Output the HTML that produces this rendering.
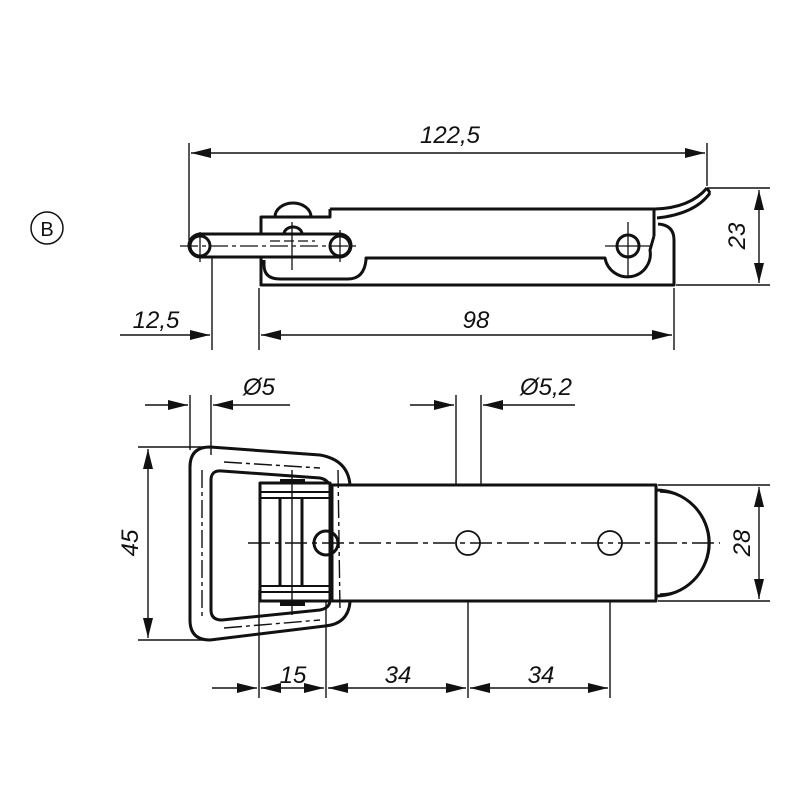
<!DOCTYPE html>
<html><head><meta charset="utf-8"><style>
html,body{margin:0;padding:0;background:#fff}
svg{display:block}
text{font-family:"Liberation Sans",sans-serif;font-style:italic;font-size:24px;fill:#111}
</style></head><body>
<svg width="800" height="800" viewBox="0 0 800 800" xmlns="http://www.w3.org/2000/svg">
<defs>
<marker id="a" viewBox="0 0 20 10" refX="20" refY="5" markerWidth="20" markerHeight="10" markerUnits="userSpaceOnUse" orient="auto-start-reverse"><path d="M0,0 L20,5 L0,10 Z" fill="#111"/></marker>
</defs>
<g fill="none" stroke="#111">
<circle cx="47" cy="228" r="16" stroke-width="1.5"/>
<g stroke-width="1.4">
<line x1="189" y1="143" x2="189" y2="240"/>
<line x1="707" y1="143" x2="707" y2="186"/>
<line x1="191" y1="153" x2="705" y2="153" marker-start="url(#a)" marker-end="url(#a)"/>
<line x1="707" y1="188" x2="770" y2="188"/>
<line x1="676" y1="285" x2="770" y2="285"/>
<line x1="759" y1="190" x2="759" y2="283" marker-start="url(#a)" marker-end="url(#a)"/>
<line x1="212" y1="258" x2="212" y2="350"/>
<line x1="259" y1="288" x2="259" y2="350"/>
<line x1="674" y1="288" x2="674" y2="350"/>
<line x1="120" y1="335" x2="210" y2="335" marker-end="url(#a)"/>
<line x1="261" y1="335" x2="672" y2="335" marker-start="url(#a)" marker-end="url(#a)"/>
</g>
<g stroke-width="3" stroke-linejoin="round">
<path d="M330,209 L655,209 M330,209 L330,217 L261,217 L261,285 L674,285 L674,240 Q674,225 658,224"/>
<path d="M655,209 Q690,208 707,188 M657,218 Q695,214 710,193 M707,188 L710,193"/>
<path d="M654,209 L654,236"/>
<path d="M264,260 L264,265 Q264,279 280,279 L348,279 Q364,279 366,260 L366,258 L605,258 A22,22 0 0 0 650,250 L654,236"/>
<path d="M275,217 A18,14 0 0 1 311,217"/>
<path d="M284,234 A9,7 0 0 1 302,234"/>
<rect x="189" y="234" width="162" height="23" rx="11.5" fill="#fff"/>
<circle cx="200" cy="246" r="10"/>
<circle cx="340" cy="246" r="10"/>
<circle cx="628" cy="246" r="11"/>
</g>
<g stroke-width="1.3">
<line x1="180" y1="246" x2="360" y2="246" stroke-dasharray="18,4,4,4"/>
<line x1="200" y1="232" x2="200" y2="262"/>
<line x1="340" y1="230" x2="340" y2="262"/>
<line x1="292" y1="222" x2="292" y2="270"/>
<line x1="270" y1="241" x2="315" y2="241" stroke-dasharray="10,4"/>
<line x1="605" y1="246" x2="652" y2="246"/>
<line x1="628" y1="222" x2="628" y2="278"/>
</g>
<g stroke-width="1.4">
<line x1="190" y1="395" x2="190" y2="450"/>
<line x1="211" y1="395" x2="211" y2="455"/>
<line x1="145" y1="405" x2="188" y2="405" marker-end="url(#a)"/>
<line x1="290" y1="405" x2="213" y2="405" marker-end="url(#a)"/>
<line x1="456" y1="395" x2="456" y2="540"/>
<line x1="481" y1="395" x2="481" y2="540"/>
<line x1="410" y1="405" x2="454" y2="405" marker-end="url(#a)"/>
<line x1="575" y1="405" x2="483" y2="405" marker-end="url(#a)"/>
<line x1="138" y1="447" x2="205" y2="447"/>
<line x1="138" y1="640" x2="215" y2="640"/>
<line x1="148" y1="449" x2="148" y2="638" marker-start="url(#a)" marker-end="url(#a)"/>
<line x1="658" y1="485" x2="770" y2="485"/>
<line x1="658" y1="601" x2="770" y2="601"/>
<line x1="759" y1="487" x2="759" y2="599" marker-start="url(#a)" marker-end="url(#a)"/>
<line x1="259" y1="590" x2="259" y2="698"/>
<line x1="326" y1="520" x2="326" y2="698"/>
<line x1="468" y1="515" x2="468" y2="698"/>
<line x1="610" y1="515" x2="610" y2="698"/>
<line x1="212" y1="688" x2="257" y2="688" marker-end="url(#a)"/>
<line x1="261" y1="688" x2="324" y2="688" marker-start="url(#a)" marker-end="url(#a)"/>
<line x1="328" y1="688" x2="466" y2="688" marker-start="url(#a)" marker-end="url(#a)"/>
<line x1="470" y1="688" x2="608" y2="688" marker-start="url(#a)" marker-end="url(#a)"/>
</g>
<g stroke-width="3" stroke-linejoin="round">
<path d="M210,447 L320,455 Q348,460 350,485 L350,602 Q348,624 325,626 L210,640 Q190,640 190,620 L190,467 Q190,447 210,447 Z"/>
<path d="M222,471 L320,478 Q330,480 330,490 L330,600 Q330,608 320,610 L222,620 Q211,620 211,610 L211,480 Q211,470 222,471 Z"/>
<rect x="332" y="485" width="324" height="116" fill="#fff"/>
<path d="M656,485 L656,490 A52,52 0 0 1 656,596 L656,601" />
<path d="M660,492 A50,51 0 0 1 660,594" stroke-width="1.5"/>
<rect x="260" y="483" width="70" height="118" fill="#fff"/>
<line x1="260" y1="492" x2="330" y2="492" stroke-width="2"/>
<line x1="260" y1="498" x2="330" y2="498" stroke-width="2"/>
<line x1="260" y1="586" x2="330" y2="586" stroke-width="2"/>
<line x1="260" y1="592" x2="330" y2="592" stroke-width="2"/>
<line x1="280" y1="498" x2="280" y2="586"/>
<line x1="302" y1="498" x2="302" y2="586"/>
<circle cx="326" cy="543" r="12"/>
<circle cx="468" cy="543" r="12" stroke-width="1.8"/>
<circle cx="610" cy="543" r="12" stroke-width="1.8"/>
</g>
<rect x="280" y="479" width="25" height="5" fill="#111" stroke="none"/>
<rect x="280" y="601" width="25" height="5" fill="#111" stroke="none"/>
<g stroke-width="1.4">
<path d="M202,470 L202,620 M224,462 L320,468 M224,628 L320,620 M338,470 L340,610" stroke-dasharray="18,4,4,4"/>
<line x1="248" y1="543" x2="720" y2="543" stroke-dasharray="22,5,5,5"/>
<line x1="292" y1="470" x2="292" y2="615"/>
</g>
</g>
<g>
<text x="47" y="236" text-anchor="middle" style="font-style:normal;font-size:20px">B</text>
<text x="450" y="143" text-anchor="middle">122,5</text>
<text x="745" y="236" text-anchor="middle" transform="rotate(-90 745 236)">23</text>
<text x="156" y="328" text-anchor="middle">12,5</text>
<text x="476" y="328" text-anchor="middle">98</text>
<text x="259" y="395" text-anchor="middle">Ø5</text>
<text x="546" y="395" text-anchor="middle">Ø5,2</text>
<text x="138" y="543" text-anchor="middle" transform="rotate(-90 138 543)">45</text>
<text x="750" y="543" text-anchor="middle" transform="rotate(-90 750 543)">28</text>
<text x="293" y="683" text-anchor="middle">15</text>
<text x="398" y="683" text-anchor="middle">34</text>
<text x="541" y="683" text-anchor="middle">34</text>
</g>
</svg>
</body></html>
